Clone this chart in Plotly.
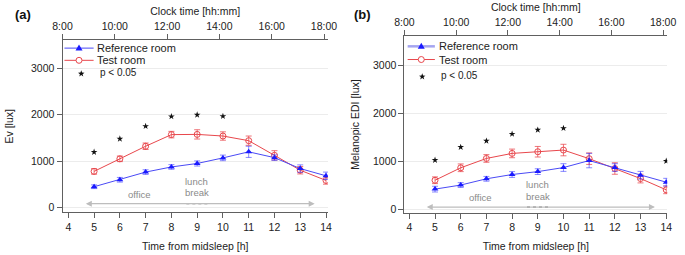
import math
import plotly.graph_objects as go

# ---------------- data ----------------
hours = [5, 6, 7, 8, 9, 10, 11, 12, 13, 14]

ev_ref = [450, 600, 765, 875, 950, 1070, 1200, 1075, 840, 685]
ev_ref_err = [40, 50, 50, 50, 55, 60, 120, 60, 80, 80]
ev_test = [780, 1050, 1320, 1570, 1575, 1540, 1440, 1125, 805, 585]
ev_test_err = [60, 60, 70, 70, 100, 90, 100, 100, 80, 80]
ev_star_x = [5, 6, 7, 8, 9, 10]
ev_star_y = [1195, 1480, 1750, 1960, 1995, 1965]

mel_ref = [415, 500, 630, 720, 780, 865, 1010, 865, 705, 560]
mel_ref_err = [60, 50, 50, 60, 60, 80, 150, 80, 80, 80]
mel_test = [600, 860, 1055, 1160, 1195, 1230, 1050, 845, 635, 400]
mel_test_err = [70, 80, 80, 90, 110, 120, 120, 120, 90, 80]
mel_star_x = [5, 6, 7, 8, 9, 10, 14]
mel_star_y = [1020, 1290, 1420, 1565, 1650, 1685, 1000]

midsleep_ticks = [4, 5, 6, 7, 8, 9, 10, 11, 12, 13, 14]
clock_ticks = [8, 10, 12, 14, 16, 18]
clock_labels = ["8:00", "10:00", "12:00", "14:00", "16:00", "18:00"]
y_ticks = [0, 1000, 2000, 3000]

# ---------------- style ----------------
W, H = 685, 255
FONT = "Liberation Sans, Arial, sans-serif"
BLUE = "#1a1aff"
BLUE_LINE = "#4a4af5"
RED = "#e8474c"
AX = "#606060"
TXT = "#222222"
GRAY_TXT = "#8a8a8a"


def pxx(v):
    return v / W


def pxy(v):
    return 1 - v / H


fig = go.Figure()

panels = [
    dict(x="x", top="x2", y="y", ref=ev_ref, ref_err=ev_ref_err, test=ev_test,
         test_err=ev_test_err, sx=ev_star_x, sy=ev_star_y),
    dict(x="x3", top="x4", y="y2", ref=mel_ref, ref_err=mel_ref_err, test=mel_test,
         test_err=mel_test_err, sx=mel_star_x, sy=mel_star_y),
]

for p in panels:
    # clock-time axis carrier (no visible marks)
    fig.add_trace(go.Scatter(
        x=clock_ticks, y=[None] * len(clock_ticks), xaxis=p["top"], yaxis=p["y"],
        mode="markers", showlegend=False, hoverinfo="skip", name="clock"))
    fig.add_trace(go.Scatter(
        x=hours, y=p["test"], xaxis=p["x"], yaxis=p["y"], mode="lines+markers",
        line=dict(color=RED, width=1),
        marker=dict(symbol="circle-open", size=6, color=RED, line=dict(width=1, color=RED)),
        error_y=dict(type="data", array=p["test_err"], color="rgba(232,71,76,0.75)",
                     thickness=1, width=3),
        name="Test room", showlegend=False))
    fig.add_trace(go.Scatter(
        x=hours, y=p["ref"], xaxis=p["x"], yaxis=p["y"], mode="lines+markers",
        line=dict(color=BLUE_LINE, width=1),
        marker=dict(symbol="triangle-up", size=6, color=BLUE),
        error_y=dict(type="data", array=p["ref_err"], color="rgba(40,40,255,0.55)",
                     thickness=1, width=3),
        name="Reference room", showlegend=False))
    fig.add_trace(go.Scatter(
        x=p["sx"], y=p["sy"], xaxis=p["x"], yaxis=p["y"], mode="markers",
        marker=dict(symbol="star", size=5, color="#111111"),
        name="p < 0.05", showlegend=False))

tickfont = dict(family=FONT, size=10.5, color=TXT)
titlefont = dict(family=FONT, size=10.5, color=TXT)


def xbottom(domain, rng, title):
    return dict(domain=domain, range=rng, tickmode="array", tickvals=midsleep_ticks,
                ticks="outside", ticklen=5, tickcolor=AX, showline=True, linecolor=AX,
                linewidth=1, showgrid=False, zeroline=False, tickfont=tickfont,
                title=dict(text=title, font=titlefont, standoff=10))


def xtop(rng, over, anchor, title, standoff):
    return dict(overlaying=over, anchor=anchor, side="top", range=rng, tickmode="array",
                tickvals=clock_ticks, ticktext=clock_labels, ticks="outside", ticklen=5,
                tickcolor=AX, showline=True, linecolor=AX, linewidth=1, showgrid=False,
                zeroline=False, tickfont=tickfont,
                title=dict(text=title, font=titlefont, standoff=standoff))


def yax(domain, rng, title, anchor, standoff):
    return dict(domain=domain, range=rng, anchor=anchor, tickmode="array", tickvals=y_ticks,
                ticks="outside", ticklen=5, tickcolor=AX, showline=True, linecolor=AX,
                linewidth=1, showgrid=True, gridcolor="#ececec", gridwidth=1, zeroline=False,
                tickfont=tickfont, title=dict(text=title, font=titlefont, standoff=standoff))


fig.update_layout(
    width=W, height=H, margin=dict(l=0, r=0, t=0, b=0),
    paper_bgcolor="white", plot_bgcolor="white", showlegend=False,
    font=dict(family=FONT, size=11, color=TXT),
    xaxis=dict(anchor="y", **xbottom([pxx(54), pxx(327)], [3.774, 14.075], "Time from midsleep [h]")),
    xaxis2=xtop([8, 18.15], "x", "y", "Clock time [hh:mm]", 2),
    yaxis=yax([pxy(214), pxy(40.5)], [-100, 3600], "Ev [lux]", "x", 15),
    xaxis3=dict(anchor="y2", **xbottom([pxx(405.7), pxx(676)], [3.81, 14.04], "Time from midsleep [h]")),
    xaxis4=xtop([8, 18.16], "x3", "y2", "Clock time [hh:mm]", 2),
    yaxis2=yax([pxy(214.3), pxy(36.7)], [-75, 3600], "Melanopic EDI [lux]", "x3", 11),
)

shapes = []
annotations = []


def label(text, x, y, size=10.5, color=TXT, xanchor="center", xref="paper", yref="paper"):
    return dict(text=text, x=x, y=y, xref=xref, yref=yref, xanchor=xanchor, yanchor="middle",
                showarrow=False, font=dict(family=FONT, size=size, color=color))


# panel labels
annotations.append(label("<b>(a)</b>", pxx(13), pxy(15), size=13, color="#111"))
annotations.append(label("<b>(b)</b>", pxx(363), pxy(15), size=13, color="#111"))

# office / lunch break arrows & labels
for xr, yr, arrow_y, office_y, lunch_y, break_y in [
    ("x", "y", 85, 285, 555, 325),
    ("x3", "y2", 40, 235, 510, 270),
]:
    annotations.append(dict(x=13.56, y=arrow_y, ax=4.62, ay=arrow_y, xref=xr, yref=yr,
                            axref=xr, ayref=yr, text="", showarrow=True, arrowhead=2,
                            arrowside="end+start", arrowsize=1, arrowwidth=1.2,
                            arrowcolor="#bdbdbd"))
    shapes.append(dict(type="line", xref=xr, yref=yr, x0=8.58, x1=9.42, y0=arrow_y, y1=arrow_y,
                       line=dict(color="#444444", width=1, dash="dot")))
    annotations.append(dict(x=8.53, y=arrow_y, ax=8.62, ay=arrow_y, xref=xr, yref=yr,
                            axref=xr, ayref=yr, text="", showarrow=True, arrowhead=2,
                            arrowsize=0.9, arrowwidth=1, arrowcolor="#444444"))
    annotations.append(dict(x=9.47, y=arrow_y, ax=9.38, ay=arrow_y, xref=xr, yref=yr,
                            axref=xr, ayref=yr, text="", showarrow=True, arrowhead=2,
                            arrowsize=0.9, arrowwidth=1, arrowcolor="#444444"))
    annotations.append(label("office", 6.76, office_y, size=9.5, color=GRAY_TXT, xref=xr, yref=yr))
    annotations.append(label("lunch", 8.45, lunch_y, size=9.5, color=GRAY_TXT, xanchor="left",
                             xref=xr, yref=yr))
    annotations.append(label("break", 8.45, break_y, size=9.5, color=GRAY_TXT, xanchor="left",
                             xref=xr, yref=yr))

# manual legends (compact, as in the reference)
tri_path = "M -3.5 -2.5 L 3.5 -2.5 L 0 3.5 Z"
star_pts = []
for k in range(10):
    r = 3.4 if k % 2 == 0 else 1.4
    a = math.pi / 2 + k * math.pi / 5
    star_pts.append((r * math.cos(a), r * math.sin(a)))
star_path = "M " + " L ".join(f"{a:.2f} {b:.2f}" for a, b in star_pts) + " Z"

for (lx0, lx1, yb, yr_, ys, xs, xt, xp, blue_w, blue_c) in [
    (56, 86, 48.5, 60.8, 74.3, 73.3, 87, 91, 1, BLUE_LINE),
    (409, 437, 46.7, 60, 77.3, 424, 439, 441, 2.5, "rgb(165,165,240)"),
]:
    mid = (lx0 + lx1) / 2
    shapes.append(dict(type="line", xref="paper", yref="paper", x0=pxx(lx0), x1=pxx(lx1),
                       y0=pxy(yb), y1=pxy(yb), line=dict(color=blue_c, width=blue_w)))
    shapes.append(dict(type="path", xref="paper", yref="paper", xsizemode="pixel",
                       ysizemode="pixel", xanchor=pxx(mid), yanchor=pxy(yb), path=tri_path,
                       fillcolor=BLUE, line=dict(width=0)))
    shapes.append(dict(type="line", xref="paper", yref="paper", x0=pxx(lx0), x1=pxx(lx1),
                       y0=pxy(yr_), y1=pxy(yr_), line=dict(color=RED, width=1)))
    shapes.append(dict(type="circle", xref="paper", yref="paper", xsizemode="pixel",
                       ysizemode="pixel", xanchor=pxx(mid), yanchor=pxy(yr_), x0=-3, x1=3,
                       y0=-3, y1=3, fillcolor="white", line=dict(color=RED, width=1)))
    shapes.append(dict(type="path", xref="paper", yref="paper", xsizemode="pixel",
                       ysizemode="pixel", xanchor=pxx(xs), yanchor=pxy(ys), path=star_path,
                       fillcolor="#111111", line=dict(width=0)))
    annotations.append(label("Reference room", pxx(xt), pxy(yb), size=11, xanchor="left"))
    annotations.append(label("Test room", pxx(xt), pxy(yr_), size=11, xanchor="left"))
    annotations.append(label("p < 0.05", pxx(xp), pxy(ys - 1), size=10, xanchor="left"))

fig.update_layout(shapes=shapes, annotations=annotations)
fig.write_html("out.html", post_script="document.body.style.margin='0px';",
               config={"displayModeBar": False})
